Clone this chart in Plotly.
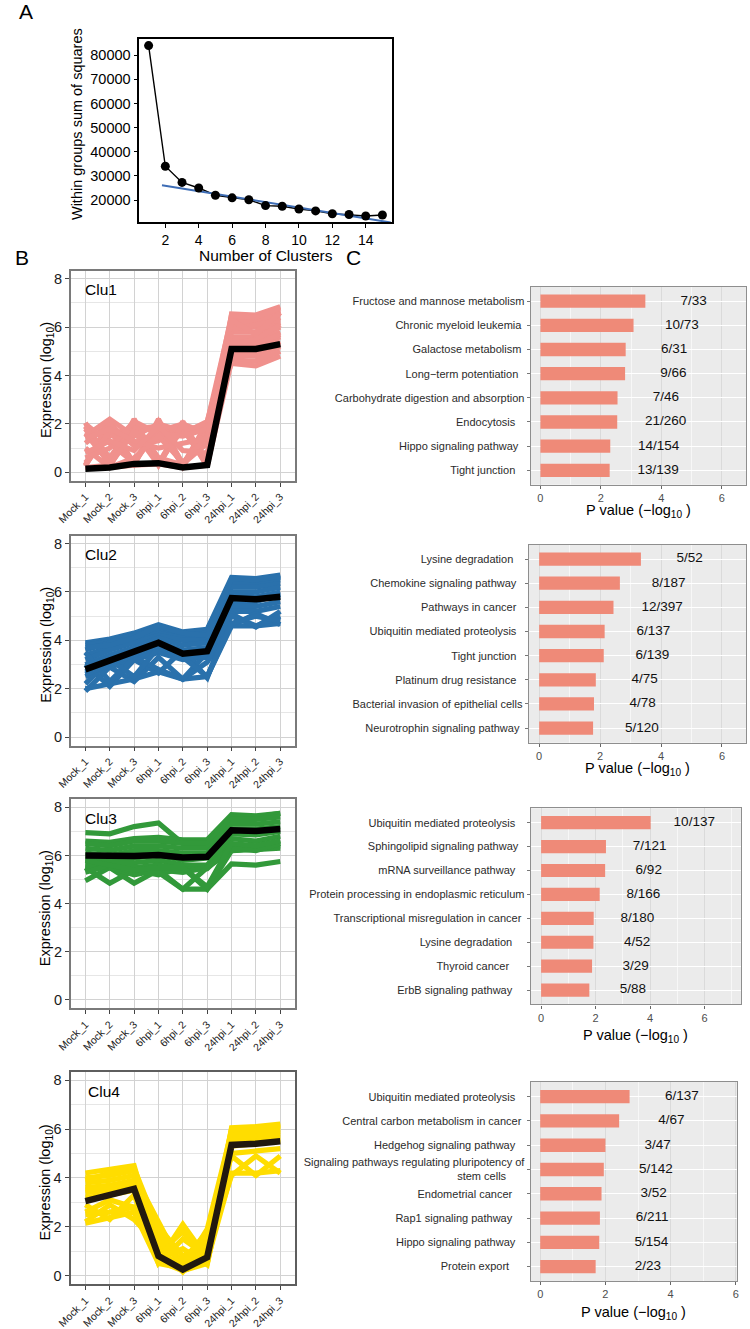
import plotly.graph_objects as go

W, H = 750, 1329

# ---------------- Panel A data ----------------
k_values = list(range(1, 16))
wss_values = [84000, 34000, 27300, 25000, 22000, 20900, 20100, 17700,
              17400, 16300, 15500, 14300, 14000, 13400, 13800]
fit_k = [1.8, 15.5]
fit_wss = [26100, 10700]
a_xticks = [2, 4, 6, 8, 10, 12, 14]
a_yticks = [20000, 30000, 40000, 50000, 60000, 70000, 80000]

# ---------------- Panel B data ----------------
samples = ["Mock_1", "Mock_2", "Mock_3", "6hpi_1", "6hpi_2", "6hpi_3",
           "24hpi_1", "24hpi_2", "24hpi_3"]

clu1_genes = [
    [2.05, 0.25, 2.0, 0.3, 1.95, 0.3, 6.55, 6.5, 6.85],
    [0.25, 2.15, 0.3, 2.2, 0.3, 2.05, 6.4, 6.35, 6.7],
    [1.8, 0.3, 2.2, 0.35, 2.1, 0.35, 6.2, 6.2, 6.55],
    [0.3, 1.9, 0.35, 2.0, 0.25, 1.9, 6.0, 6.0, 6.4],
    [1.6, 0.4, 1.8, 1.9, 1.6, 2.1, 5.8, 5.8, 6.2],
    [0.4, 1.5, 1.9, 1.7, 2.0, 1.6, 5.6, 5.6, 6.0],
    [2.0, 1.2, 0.4, 2.1, 0.35, 1.2, 5.4, 5.4, 5.8],
    [0.2, 0.3, 1.8, 0.4, 1.8, 0.3, 5.2, 5.2, 5.6],
    [1.2, 2.0, 1.1, 1.3, 1.9, 0.25, 5.0, 5.0, 5.4],
    [1.9, 0.6, 2.0, 0.6, 0.3, 1.9, 4.8, 4.8, 5.2],
    [0.2, 0.2, 0.3, 0.35, 0.2, 0.3, 4.6, 4.6, 5.0],
    [1.5, 2.2, 1.5, 2.0, 1.7, 2.0, 4.5, 4.4, 4.8],
    [0.3, 1.7, 0.4, 1.8, 0.3, 1.7, 6.5, 6.4, 6.8],
    [1.9, 0.3, 1.7, 0.3, 2.0, 0.4, 5.9, 6.1, 6.3],
    [0.6, 1.0, 2.1, 1.6, 1.5, 1.8, 5.3, 5.5, 6.1],
    [1.0, 0.2, 0.6, 1.5, 0.4, 1.5, 4.7, 4.9, 5.3],
    [1.4, 1.8, 1.3, 1.0, 1.2, 1.4, 6.3, 5.7, 6.6],
    [0.8, 1.3, 0.9, 1.9, 0.9, 0.8, 5.1, 5.3, 5.7],
]
clu1_mean = [0.15, 0.2, 0.35, 0.38, 0.2, 0.3, 5.1, 5.1, 5.3]

clu2_genes = [
    [3.9, 4.05, 4.3, 4.65, 4.35, 4.45, 6.6, 6.55, 6.7],
    [3.8, 3.95, 4.2, 4.5, 4.3, 4.4, 6.5, 6.45, 6.6],
    [3.6, 3.9, 4.1, 4.4, 4.2, 4.3, 6.4, 6.35, 6.5],
    [3.4, 3.7, 4.0, 4.3, 4.1, 4.2, 6.2, 6.2, 6.35],
    [3.2, 3.6, 3.9, 4.2, 4.0, 4.0, 6.0, 6.0, 6.2],
    [3.0, 3.4, 3.7, 4.1, 3.8, 3.9, 5.9, 5.8, 6.0],
    [2.9, 3.3, 3.5, 3.9, 3.6, 3.7, 5.6, 5.6, 5.9],
    [2.7, 3.1, 3.3, 3.7, 3.3, 3.4, 5.4, 5.4, 5.6],
    [2.5, 2.9, 3.2, 3.5, 3.2, 3.3, 5.2, 5.2, 5.4],
    [1.9, 2.9, 2.3, 3.3, 2.4, 3.1, 4.6, 5.1, 4.65],
    [3.0, 2.1, 3.2, 2.65, 3.6, 2.45, 5.1, 4.55, 5.2],
    [2.0, 2.2, 2.4, 2.7, 2.4, 2.5, 4.6, 4.6, 4.7],
    [3.5, 2.3, 3.3, 2.8, 2.4, 3.5, 5.0, 4.6, 5.0],
    [2.2, 3.2, 2.5, 3.7, 3.3, 2.5, 4.7, 5.0, 4.8],
    [3.7, 3.8, 4.1, 4.6, 4.3, 4.2, 6.55, 6.5, 6.65],
    [2.6, 3.0, 3.4, 3.8, 3.5, 3.6, 5.8, 5.7, 5.8],
]
clu2_mean = [2.8, 3.15, 3.5, 3.9, 3.45, 3.55, 5.75, 5.7, 5.8]

clu3_genes = [
    [6.95, 6.9, 7.2, 7.35, 6.5, 6.6, 7.6, 7.6, 7.75],
    [6.6, 6.55, 6.7, 6.75, 6.65, 6.65, 7.7, 7.65, 7.75],
    [6.5, 6.4, 6.6, 6.6, 6.5, 6.5, 7.5, 7.5, 7.6],
    [6.3, 6.2, 6.4, 6.4, 6.3, 6.3, 7.3, 7.3, 7.4],
    [6.1, 6.0, 6.2, 6.2, 6.1, 6.1, 7.1, 7.1, 7.2],
    [5.9, 5.8, 5.9, 6.0, 5.8, 5.9, 6.9, 6.85, 7.0],
    [5.7, 5.7, 5.7, 5.8, 5.6, 5.6, 6.7, 6.6, 6.8],
    [5.5, 5.5, 5.5, 5.6, 5.45, 5.45, 6.4, 6.4, 6.6],
    [4.95, 5.5, 4.85, 5.4, 5.3, 5.5, 6.2, 6.3, 6.4],
    [5.5, 4.85, 5.4, 5.2, 5.5, 4.6, 6.2, 6.25, 6.3],
    [5.6, 5.5, 5.2, 5.4, 4.6, 4.6, 5.65, 5.6, 5.75],
    [5.3, 5.6, 5.3, 5.3, 4.6, 5.5, 6.3, 6.2, 6.5],
    [5.8, 5.6, 5.4, 5.5, 5.5, 4.7, 6.5, 6.4, 6.6],
]
clu3_mean = [6.0, 5.98, 5.98, 6.02, 5.92, 5.95, 7.05, 7.02, 7.1]

clu4_genes = [
    [4.2, 4.35, 4.5, 1.0, 0.2, 0.6, 6.05, 6.1, 6.2],
    [4.0, 4.1, 4.3, 0.9, 1.8, 0.5, 5.95, 6.0, 6.1],
    [3.8, 3.9, 4.1, 2.2, 0.3, 1.9, 5.9, 5.9, 6.0],
    [3.6, 3.7, 3.9, 0.6, 2.1, 0.7, 5.8, 5.8, 5.9],
    [3.4, 3.5, 3.7, 1.7, 0.4, 1.5, 5.7, 5.7, 5.8],
    [3.2, 3.3, 3.5, 0.5, 1.5, 0.8, 5.6, 5.6, 5.7],
    [2.2, 2.9, 2.3, 1.2, 0.15, 1.2, 5.5, 5.5, 5.6],
    [2.9, 2.3, 3.3, 0.7, 1.1, 0.45, 5.3, 5.4, 5.5],
    [2.15, 2.4, 2.6, 0.5, 0.3, 1.0, 4.1, 4.9, 4.2],
    [2.6, 3.1, 2.8, 1.4, 0.6, 1.8, 4.9, 4.1, 4.9],
    [3.9, 4.2, 4.4, 1.9, 0.2, 0.5, 5.0, 5.1, 5.2],
    [2.5, 2.6, 2.8, 0.6, 0.2, 0.6, 4.2, 4.2, 4.3],
    [3.5, 3.6, 3.8, 2.0, 0.8, 1.4, 6.0, 6.05, 6.15],
]
clu4_mean = [3.05, 3.3, 3.55, 0.8, 0.25, 0.75, 5.35, 5.4, 5.5]

cluster_names = ["Clu1", "Clu2", "Clu3", "Clu4"]
b_yticks = [0, 2, 4, 6, 8]

# ---------------- Panel C data ----------------
NB = "\u00a0"
c1_terms = ["Fructose and mannose metabolism", "Chronic myeloid leukemia" + NB,
            "Galactose metabolism" + NB, "Long\u2212term potentiation" + NB * 2,
            "Carbohydrate digestion and absorption", "Endocytosis" + NB * 3,
            "Hippo signaling pathway" + NB * 2, "Tight junction" + NB * 3]
c1_pvals = [3.47, 3.08, 2.82, 2.80, 2.55, 2.54, 2.31, 2.29]
c1_counts = ["7/33", "10/73", "6/31", "9/66", "7/46", "21/260", "14/154", "13/139"]

c2_terms = ["Lysine degradation" + NB * 3, "Chemokine signaling pathway" + NB * 2,
            "Pathways in cancer" + NB * 2, "Ubiquitin mediated proteolysis" + NB * 2,
            "Tight junction" + NB * 2, "Platinum drug resistance" + NB * 2,
            "Bacterial invasion of epithelial cells", "Neurotrophin signaling pathway" + NB]
c2_pvals = [3.34, 2.65, 2.44, 2.15, 2.12, 1.86, 1.80, 1.77]
c2_counts = ["5/52", "8/187", "12/397", "6/137", "6/139", "4/75", "4/78", "5/120"]

c3_terms = ["Ubiquitin mediated proteolysis" + NB * 3, "Sphingolipid signaling pathway" + NB * 2,
            "mRNA surveillance pathway" + NB * 3, "Protein processing in endoplasmic reticulum",
            "Transcriptional misregulation in cancer" + NB, "Lysine degradation" + NB * 4,
            "Thyroid cancer" + NB * 5, "ErbB signaling pathway" + NB * 4]
c3_pvals = [4.02, 2.38, 2.35, 2.15, 1.93, 1.92, 1.87, 1.77]
c3_counts = ["10/137", "7/121", "6/92", "8/166", "8/180", "4/52", "3/29", "5/88"]

c4_terms = ["Ubiquitin mediated proteolysis" + NB * 3, "Central carbon metabolism in cancer" + NB,
            "Hedgehog signaling pathway" + NB * 3,
            "Signaling pathways regulating pluripotency of<br>stem cells" + NB * 6,
            "Endometrial cancer" + NB * 4, "Rap1 signaling pathway" + NB * 4,
            "Hippo signaling pathway" + NB * 3, "Protein export" + NB * 5]
c4_pvals = [2.74, 2.42, 2.00, 1.95, 1.88, 1.83, 1.81, 1.70]
c4_counts = ["6/137", "4/67", "3/47", "5/142", "3/52", "6/211", "5/154", "2/23"]

c_xticks = [0, 2, 4, 6]

# ---------------- styling ----------------
FONT = "Arial, 'Liberation Sans', Helvetica, sans-serif"
LABEL_OFFSET = 1.6


def xdom(l, r):
    return [l / W, r / W]


def ydom(t, b):
    return [1 - b / H, 1 - t / H]


fig = go.Figure()
layout = dict(width=W, height=H, margin=dict(l=0, r=0, t=0, b=0),
              paper_bgcolor="white", plot_bgcolor="white",
              showlegend=False, font=dict(family=FONT, color="black"))
annotations = []
shapes = []

# ---------- Panel A ----------
fig.add_trace(go.Scatter(x=k_values, y=wss_values, mode="lines",
                         line=dict(color="black", width=1.4),
                         xaxis="x", yaxis="y", hoverinfo="skip"))
fig.add_trace(go.Scatter(x=fit_k, y=fit_wss, mode="lines",
                         line=dict(color="#3E6DB5", width=2),
                         xaxis="x", yaxis="y", hoverinfo="skip"))
fig.add_trace(go.Scatter(x=k_values, y=wss_values, mode="markers",
                         marker=dict(color="black", size=9),
                         xaxis="x", yaxis="y"))
layout["xaxis"] = dict(domain=xdom(128, 386), range=[0.44, 15.56], tickvals=a_xticks,
                       ticks="outside", ticklen=4, tickwidth=1.2, tickcolor="black",
                       showline=True, mirror=True, linecolor="black", linewidth=1.5,
                       showgrid=False, zeroline=False, anchor="y",
                       tickfont=dict(size=14, color="black"))
layout["yaxis"] = dict(domain=ydom(39, 223), range=[10900, 86800], tickvals=a_yticks,
                       tickformat="d",
                       ticks="outside", ticklen=4, tickwidth=1.2, tickcolor="black",
                       showline=True, mirror=True, linecolor="black", linewidth=1.5,
                       showgrid=False, zeroline=False, anchor="x",
                       tickfont=dict(size=14.5, color="black"))
annotations.append(dict(text="Within groups sum of squares", x=65 / W, y=1 - 125 / H,
                        xref="paper", yref="paper", textangle=-90, showarrow=False,
                        font=dict(size=14.5), xanchor="center", yanchor="middle"))
annotations.append(dict(text="Number of Clusters", x=257 / W, y=1 - 257 / H,
                        xref="paper", yref="paper", showarrow=False,
                        font=dict(size=15.5), xanchor="center", yanchor="middle"))

# ---------- Panel B ----------
b_boxes = [(272, 483), (538, 749), (803, 1013), (1077, 1290)]
b_colors = ["#F0918D", "#2A71AC", "#32993A", "#FFDD00"]
b_mean_colors = ["black", "black", "black", "#21190F"]
b_genes = [clu1_genes, clu2_genes, clu3_genes, clu4_genes]
b_means = [clu1_mean, clu2_mean, clu3_mean, clu4_mean]

for i in range(4):
    n = i + 2
    xa, ya = f"x{n}", f"y{n}"
    for g in b_genes[i]:
        fig.add_trace(go.Scatter(x=samples, y=g, mode="lines",
                                 line=dict(color=b_colors[i], width=5.2),
                                 xaxis=xa, yaxis=ya, hoverinfo="skip"))
    fig.add_trace(go.Scatter(x=samples, y=b_means[i], mode="lines",
                             line=dict(color=b_mean_colors[i], width=6.5),
                             xaxis=xa, yaxis=ya))
    top, bot = b_boxes[i]
    border_col = "#7A7A7A" if i < 3 else "#5E5E5E"
    border_w = 1.6 if i < 3 else 2.4
    layout[f"xaxis{n}"] = dict(domain=xdom(58, 287), type="category",
                               categoryorder="array", categoryarray=samples,
                               range=[-0.6, 8.6], tickangle=-45,
                               ticks="outside", ticklen=4, tickcolor="#444",
                               showline=True, mirror=True, linecolor=border_col,
                               linewidth=border_w, showgrid=True, gridcolor="#D2D2D2",
                               gridwidth=1, zeroline=False, anchor=ya,
                               tickfont=dict(size=10.5, color="#1A1A1A"))
    layout[f"yaxis{n}"] = dict(domain=ydom(top, bot), range=[-0.35, 8.33],
                               tickvals=b_yticks, ticks="outside", ticklen=4,
                               tickcolor="#444", showline=True, mirror=True,
                               linecolor=border_col, linewidth=border_w,
                               showgrid=True, gridcolor="#D2D2D2", gridwidth=1,
                               minor=dict(dtick=1, tick0=0, showgrid=True,
                                          gridcolor="#E6E6E6", gridwidth=0.8),
                               zeroline=False, anchor=xa,
                               tickfont=dict(size=14.5, color="#1A1A1A"))
    annotations.append(dict(text="Expression (log<sub>10</sub>)", x=33 / W,
                            y=1 - ((top + bot) / 2 + 4) / H, xref="paper", yref="paper",
                            textangle=-90, showarrow=False, font=dict(size=14.5),
                            xanchor="center", yanchor="middle"))
    annotations.append(dict(text=cluster_names[i], x=(70 if i < 3 else 74) / W,
                            y=1 - (top + 19) / H, xref="paper", yref="paper",
                            showarrow=False, font=dict(size=15.5),
                            xanchor="left", yanchor="middle"))

# ---------- Panel C ----------
c_terms = [c1_terms, c2_terms, c3_terms, c4_terms]
c_pvals = [c1_pvals, c2_pvals, c3_pvals, c4_pvals]
c_counts = [c1_counts, c2_counts, c3_counts, c4_counts]
c_boxes = [(528, 748, 288, 487), (526, 748, 547, 746),
           (528, 743, 812, 1009), (528, 739, 1087, 1287)]
c_ranges = [[-0.32, 6.8], [-0.34, 6.79], [-0.38, 7.34], [-0.29, 6.04]]
c_title_y = [513, 772, 1041, 1319]

for i in range(4):
    n = i + 6
    xa, ya = f"x{n}", f"y{n}"
    fig.add_trace(go.Bar(x=c_pvals[i], y=c_terms[i], orientation="h",
                         marker=dict(color="#EF8A78", line=dict(width=0)),
                         width=0.55, xaxis=xa, yaxis=ya))
    fig.add_trace(go.Scatter(x=[v + LABEL_OFFSET for v in c_pvals[i]], y=c_terms[i],
                             mode="text", text=c_counts[i],
                             textfont=dict(size=13.5, color="#111"),
                             textposition="middle center", cliponaxis=False,
                             xaxis=xa, yaxis=ya))
    l, r, t, b = c_boxes[i]
    layout[f"xaxis{n}"] = dict(domain=xdom(l, r), range=c_ranges[i], tickvals=c_xticks,
                               ticks="outside", ticklen=3, tickcolor="#666",
                               showline=True, mirror=True, linecolor="#8E8E8E",
                               linewidth=1.2, showgrid=True, gridcolor="#DADADA",
                               gridwidth=1,
                               minor=dict(dtick=1, tick0=0, showgrid=True,
                                          gridcolor="#F7F7F7", gridwidth=0.6),
                               zeroline=False, anchor=ya,
                               tickfont=dict(size=11, color="#4D4D4D"))
    layout[f"yaxis{n}"] = dict(domain=ydom(t, b), type="category",
                               categoryorder="array", categoryarray=c_terms[i],
                               range=[7.6, -0.6], ticks="outside", ticklen=3,
                               tickcolor="#777", showline=True, mirror=True,
                               linecolor="#8E8E8E", linewidth=1.2,
                               showgrid=True, gridcolor="white", gridwidth=1.2,
                               zeroline=False, anchor=xa,
                               tickfont=dict(size=11, color="#2B2B2B"))
    shapes.append(dict(type="rect", xref=f"{xa} domain", yref=f"{ya} domain",
                       x0=0, x1=1, y0=0, y1=1, fillcolor="#EBEBEB",
                       line=dict(width=0), layer="below"))
    annotations.append(dict(text="P value (\u2212log<sub>10</sub> )",
                            x=(l + r) / 2 / W, y=1 - c_title_y[i] / H,
                            xref="paper", yref="paper", showarrow=False,
                            font=dict(size=14.5), xanchor="center", yanchor="middle"))

# ---------- Panel letters ----------
for letter, px, py in [("A", 12, 12), ("B", 8, 259), ("C", 347, 259)]:
    annotations.append(dict(text=letter, x=px / W, y=1 - py / H, xref="paper",
                            yref="paper", showarrow=False, font=dict(size=21),
                            xanchor="center", yanchor="middle"))

layout["annotations"] = annotations
layout["shapes"] = shapes
fig.update_layout(**layout)
fig.write_html("out.html", config={"displayModeBar": False},
               post_script="document.body.style.margin='0px';document.body.style.padding='0px';")
